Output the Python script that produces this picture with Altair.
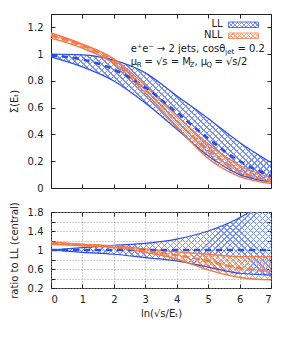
import altair as alt
import pandas as pd

# ---------------- data ----------------
x_vals = [0, 1, 2, 3, 4, 5, 6, 7]

# upper panel: Sigma(E_t)
ll_central = [0.99, 0.96, 0.885, 0.75, 0.565, 0.37, 0.20, 0.09]
ll_upper = [1.00, 0.995, 0.955, 0.86, 0.69, 0.52, 0.34, 0.19]
ll_lower = [0.98, 0.905, 0.80, 0.635, 0.44, 0.24, 0.10, 0.045]
nll_central = [1.14, 1.065, 0.945, 0.735, 0.50, 0.285, 0.125, 0.05]
nll_upper = [1.158, 1.075, 0.965, 0.765, 0.54, 0.33, 0.17, 0.077]
nll_lower = [1.12, 1.045, 0.93, 0.71, 0.46, 0.22, 0.085, 0.034]

# lower panel: ratio to LL (central)
r_ll_central = [1, 1, 1, 1, 1, 1, 1, 1]
r_ll_upper = [1.0, 1.05, 1.10, 1.14, 1.23, 1.40, 1.68, 2.10]
r_ll_lower = [1.0, 0.95, 0.91, 0.84, 0.77, 0.64, 0.51, 0.47]
r_nll_upper = [1.17, 1.12, 1.09, 1.02, 0.96, 0.91, 0.86, 0.86]
r_nll_central = [1.15, 1.11, 1.07, 0.98, 0.89, 0.77, 0.62, 0.56]
r_nll_lower = [1.12, 1.09, 1.05, 0.95, 0.81, 0.58, 0.42, 0.37]

x_ticks = [0, 1, 2, 3, 4, 5, 6, 7]
y_ticks_top = [0, 0.2, 0.4, 0.6, 0.8, 1.0, 1.2]
y_ticks_bot = [0.2, 0.4, 0.6, 0.8, 1.0, 1.2, 1.4, 1.6, 1.8]

# ---------------- styling ----------------
W, H1, H2 = 220, 174, 76
BLUE = "#2a4df0"
ORANGE = "#f47a45"
HBLUE = "#7a93f6"
HORANGE = "#f7a07a"
INK = "#222222"
FONT = "DejaVu Sans"
CLEAR = "rgba(255,255,255,0)"

TOP_DOM = [0, 1.3]
BOT_DOM = [0.2, 1.8]
xs = alt.Scale(domain=[0, 7], nice=False, zero=False)
ys_top = alt.Scale(domain=TOP_DOM, nice=False, zero=False)
ys_bot = alt.Scale(domain=BOT_DOM, nice=False, zero=False)

top_df = pd.DataFrame({"x": x_vals, "llc": ll_central, "llu": ll_upper, "lll": ll_lower,
                       "nc": nll_central, "nu": nll_upper, "nl": nll_lower})
bot_df = pd.DataFrame({"x": x_vals, "llc": r_ll_central, "llu": r_ll_upper, "lll": r_ll_lower,
                       "nc": r_nll_central, "nu": r_nll_upper, "nl": r_nll_lower})
one = pd.DataFrame({"k": [0]})


def stripes(color, wb, hb, direction, period=6.0, frac=0.2):
    """Linear gradient made of hard-edged stripes at 45 degrees (hatching)."""
    rho = hb / wb
    k = (1 + rho) / (1 + rho * rho)
    n = int((wb + hb) / period) + 1
    stops = []
    for i in range(n):
        a = min(i / n, 1.0)
        b = min((i + frac) / n, 1.0)
        c = min((i + 1) / n, 1.0)
        stops += [(a, color), (b, color), (b, CLEAR), (c, CLEAR)]
    if direction > 0:
        x1, y1, x2, y2 = 0, 0, k, k * rho
    else:
        x1, y1, x2, y2 = 0, 1, k, 1 - k * rho
    return alt.LinearGradient(gradient="linear",
                              stops=[alt.GradientStop(offset=o, color=c) for o, c in stops],
                              x1=x1, y1=y1, x2=x2, y2=y2)


def tick_axis(orient, offset, values):
    return alt.Axis(orient=orient, offset=offset, values=values, labels=False, domain=False,
                    grid=False, ticks=True, tickSize=4, tickColor=INK, tickWidth=1, title=None)


def band(df, lo, hi, ys, dom, H, hcolor, clip, xaxis=None, yaxis=None):
    span = dom[1] - dom[0]
    hb = (max(df[hi]) - min(df[lo])) / span * H
    out = []
    for i, d in enumerate((1, -1)):
        out.append(alt.Chart(df).mark_area(color=stripes(hcolor, W, hb, d), opacity=1,
                                           interpolate="monotone", clip=clip).encode(
            x=alt.X("x:Q", scale=xs, axis=xaxis if i == 0 else None),
            y=alt.Y(f"{lo}:Q", scale=ys, axis=yaxis if i == 0 else None),
            y2=alt.Y2(f"{hi}:Q")))
    return out


def panel(df, ys, dom, H, yaxis_main, xaxis_main, yt, clip):
    def line(field, color, width, dash=None, xaxis=None, yaxis=None):
        kw = dict(color=color, strokeWidth=width, interpolate="monotone", clip=clip)
        if dash:
            kw["strokeDash"] = dash
        return alt.Chart(df).mark_line(**kw).encode(
            x=alt.X("x:Q", scale=xs, axis=xaxis),
            y=alt.Y(f"{field}:Q", scale=ys, axis=yaxis))

    layers = band(df, "lll", "llu", ys, dom, H, HBLUE, clip, xaxis_main, yaxis_main)
    layers += band(df, "nl", "nu", ys, dom, H, HORANGE, clip)
    layers += [
        line("lll", BLUE, 1.2, xaxis=tick_axis("top", -H, x_ticks), yaxis=tick_axis("right", -W, yt)),
        line("llu", BLUE, 1.2, xaxis=tick_axis("bottom", -H, x_ticks), yaxis=tick_axis("left", -W, yt)),
        line("nl", ORANGE, 1.4),
        line("nu", ORANGE, 1.4),
        line("llc", BLUE, 2.6, dash=[6, 5]),
        line("nc", ORANGE, 2.2, dash=[7, 4]),
    ]
    return layers


def txt(text, xd, yd, dx=0, dy=0, size=10, align="left"):
    return alt.Chart(one).mark_text(text=text, dx=dx, dy=dy, fontSize=size, align=align,
                                    baseline="middle", color=INK, font=FONT).encode(
        x=alt.XDatum(xd, scale=xs, axis=None),
        y=alt.YDatum(yd, scale=ys_top, axis=None))


KX1, KX2 = 5.65, 6.60


def key(color, hcolor, y1, y2):
    wb = (KX2 - KX1) / 7 * W
    hb = (y1 - y2) / (TOP_DOM[1] - TOP_DOM[0]) * H1
    out = []
    for d in (1, -1):
        out.append(alt.Chart(one).mark_rect(fill=stripes(hcolor, wb, hb, d, period=5.0, frac=0.25)).encode(
            x=alt.XDatum(KX1, scale=xs, axis=None), x2=alt.X2Datum(KX2),
            y=alt.YDatum(y1, scale=ys_top, axis=None), y2=alt.Y2Datum(y2)))
    out.append(alt.Chart(one).mark_rect(fillOpacity=0, stroke=color, strokeWidth=0.8).encode(
        x=alt.XDatum(KX1, scale=xs, axis=None), x2=alt.X2Datum(KX2),
        y=alt.YDatum(y1, scale=ys_top, axis=None), y2=alt.Y2Datum(y2)))
    return out


y_axis_top = alt.Axis(values=y_ticks_top, format="~g", title="Σ(Eₜ)", ticks=False, domain=False,
                      grid=False, labelPadding=8, titlePadding=8)
top_layers = panel(top_df, ys_top, TOP_DOM, H1, y_axis_top, None, y_ticks_top, False)

# legend and annotation
L1X, L1Y, L2Y = 2.54, 1.035, 0.938
top_layers += [txt("LL", 5.46, 1.224, align="right"), txt("NLL", 5.46, 1.140, align="right")]
top_layers += key(BLUE, HBLUE, 1.240, 1.199)
top_layers += key(ORANGE, HORANGE, 1.158, 1.117)
top_layers += [
    txt("e⁺e⁻ → 2 jets, cosθ", L1X, L1Y),
    txt("jet", L1X, L1Y, dx=94.4, dy=3, size=7),
    txt("= 0.2", L1X, L1Y, dx=106.6),
    txt("μ", L1X, L2Y),
    txt("R", L1X, L2Y, dx=6.0, dy=3, size=7),
    txt("= √s = M", L1X, L2Y, dx=13.6),
    txt("Z", L1X, L2Y, dx=59.0, dy=3, size=7),
    txt(", μ", L1X, L2Y, dx=63.6),
    txt("Q", L1X, L2Y, dx=75.6, dy=3, size=7),
    txt("= √s/2", L1X, L2Y, dx=83.6),
]

top = alt.layer(*top_layers).properties(width=W, height=H1).resolve_axis(x="independent", y="independent")

y_axis_bot = alt.Axis(values=y_ticks_bot, format="~g", title="ratio to LL (central)", ticks=False,
                      domain=False, grid=True, gridDash=[1, 2], gridColor="#9a9a9a", gridWidth=1,
                      labelPadding=8, titlePadding=8)
x_axis_bot = alt.Axis(values=x_ticks, format="d", title="ln(√s/Eₜ)", ticks=False, domain=False,
                      grid=True, gridDash=[1, 2], gridColor="#9a9a9a", gridWidth=1,
                      labelPadding=6, titlePadding=4)
bot_layers = panel(bot_df, ys_bot, BOT_DOM, H2, y_axis_bot, x_axis_bot, y_ticks_bot, True)
bottom = alt.layer(*bot_layers).properties(width=W, height=H2).resolve_axis(x="independent", y="independent")

chart = alt.vconcat(top, bottom, spacing=7).resolve_scale(x="independent", y="independent").properties(
    padding={"left": 0, "top": 5, "right": 5, "bottom": 5}
).configure(font=FONT).configure_axis(
    labelFont=FONT, titleFont=FONT, labelFontSize=10, titleFontSize=10, titleFontWeight="normal",
    labelColor=INK, titleColor=INK
).configure_view(stroke=INK, strokeWidth=1)

chart.save("out.html", embed_options={"renderer": "svg", "actions": False})
